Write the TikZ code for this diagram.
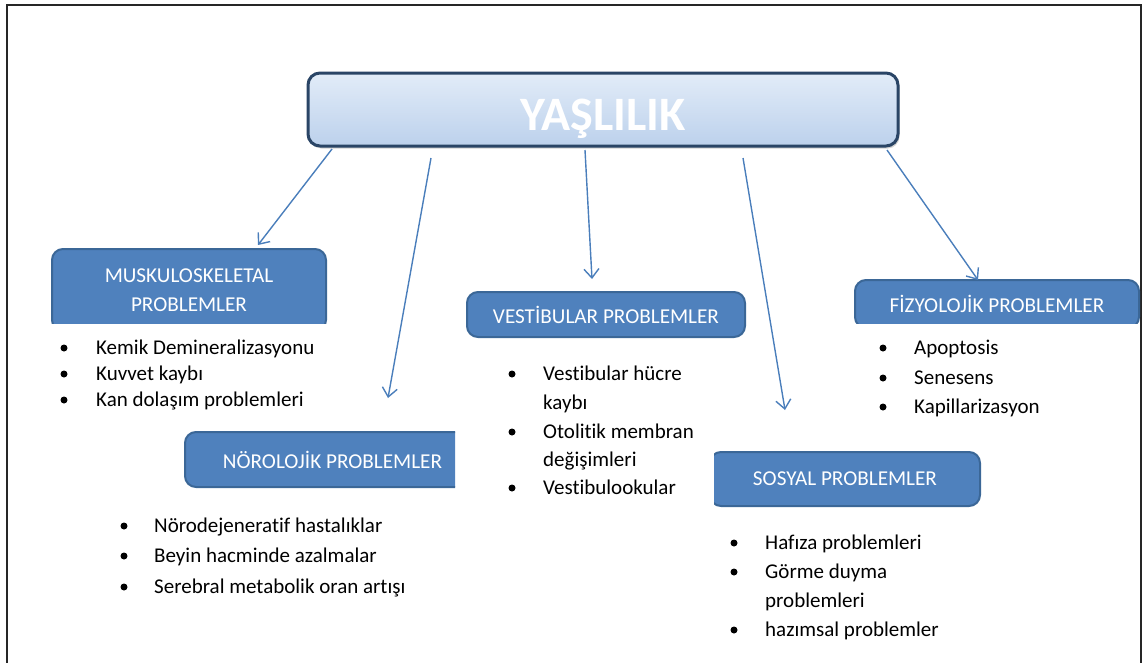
\documentclass[tikz,border=0pt]{standalone}
\usepackage{fontspec}
\setmainfont{Carlito}[Ligatures=CommonOff]
\usetikzlibrary{arrows.meta,shadows}
\definecolor{boxblue}{HTML}{4F81BD}
\definecolor{boxedge}{HTML}{3B6797}
\definecolor{arrowblue}{HTML}{4A7EBB}
\definecolor{titletop}{HTML}{E2ECF8}
\definecolor{titlebot}{HTML}{BCD1EC}
\definecolor{titleedge}{HTML}{2A4566}
\begin{document}
\begin{tikzpicture}[x=1pt,y=-1pt,
 probbox/.style={draw=boxedge, line width=2pt, fill=boxblue, rounded corners=11pt,
   text=white, font=\fontsize{21.2}{29}\selectfont, align=center, inner sep=0pt},
 item/.style={anchor=base west, font=\fontsize{21}{24}\selectfont, inner sep=0pt},
 bul/.style={circle, fill=black, inner sep=0pt, minimum size=7pt},
 link/.style={draw=arrowblue, line width=1.4pt,
   -{Straight Barb[length=9pt,width=15pt,line width=1.4pt]}}]
\useasboundingbox (0,0) rectangle (1144,662);
\draw[line width=2pt, black!85] (7,5) rectangle (1141,720);

% title
\node[draw=titleedge, line width=3pt, rounded corners=12pt,
      top color=titletop, bottom color=titlebot,
      drop shadow={opacity=0.35, shadow xshift=1.5pt, shadow yshift=-2.5pt},
      minimum width=590pt, minimum height=73pt, inner sep=0pt] (title) at (603,109.5) {};
\node[anchor=base, text=white, font=\fontsize{48}{50}\selectfont\bfseries, inner sep=0pt] (titletext) at (603,130) {YAŞLILIK};

% boxes
\begin{scope}
\clip (40,240) rectangle (340,323);
\node[probbox, minimum width=274pt, minimum height=82pt] (musk) at (189,290) {MUSKULOSKELETAL\\PROBLEMLER};
\end{scope}
\begin{scope}
\clip (170,420) rectangle (455,500);
\node[probbox, minimum width=295pt, minimum height=55pt] (noro) at (332.5,459.5) {NÖROLOJİK PROBLEMLER};
\end{scope}
\node[probbox, minimum width=278pt, minimum height=45pt] (vest) at (606,314.5) {VESTİBULAR PROBLEMLER};
\begin{scope}
\clip (714,440) rectangle (1000,520);
\node[probbox, minimum width=270pt, minimum height=54pt] (sosyal) at (845,479) {SOSYAL PROBLEMLER};
\end{scope}
\begin{scope}
\clip (840,270) rectangle (1140,323);
\node[probbox, minimum width=284pt, minimum height=48pt] (fizyo) at (997,304) {FİZYOLOJİK PROBLEMLER};
\end{scope}

% arrows
\coordinate (s1) at (332,149); \coordinate (e1) at (258,245);
\coordinate (s2) at (431,158); \coordinate (e2) at (388,398);
\coordinate (s3) at (585,150); \coordinate (e3) at (592,279);
\coordinate (s4) at (743,158); \coordinate (e4) at (785,410);
\coordinate (s5) at (887,150); \coordinate (e5) at (978,280);
\draw[link] (s1) -- (e1);
\draw[link] (s2) -- (e2);
\draw[link] (s3) -- (e3);
\draw[link] (s4) -- (e4);
\draw[link] (s5) -- (e5);

% list 1
\node[bul] (b11) at (64,348) {}; \node[item] (t11) at (96,354) {Kemik Demineralizasyonu};
\node[bul] (b12) at (64,374) {}; \node[item] (t12) at (96,380) {Kuvvet kaybı};
\node[bul] (b13) at (64,400) {}; \node[item] (t13) at (96,406) {Kan dolaşım problemleri};

% list 2
\node[bul] (b21) at (124,526) {}; \node[item] (t21) at (154,532) {Nörodejeneratif hastalıklar};
\node[bul] (b22) at (124,556) {}; \node[item] (t22) at (154,562) {Beyin hacminde azalmalar};
\node[bul] (b23) at (124,587) {}; \node[item] (t23) at (154,593) {Serebral metabolik oran artışı};

% list 3
\node[bul] (b31) at (512,374) {}; \node[item] (t31) at (543,380) {Vestibular hücre};
\node[item] (t32) at (543,409) {kaybı};
\node[bul] (b33) at (512,432) {}; \node[item] (t33) at (543,438) {Otolitik membran};
\node[item] (t34) at (543,466) {değişimleri};
\node[bul] (b35) at (512,488) {}; \node[item] (t35) at (543,494) {Vestibulookular};

% list 4
\node[bul] (b41) at (734,543) {}; \node[item] (t41) at (765,549) {Hafıza problemleri};
\node[bul] (b42) at (734,572) {}; \node[item] (t42) at (765,578) {Görme duyma};
\node[item] (t43) at (765,607) {problemleri};
\node[bul] (b44) at (734,630) {}; \node[item] (t44) at (765,636) {hazımsal problemler};

% list 5
\node[bul] (b51) at (883,348) {}; \node[item] (t51) at (914,354) {Apoptosis};
\node[bul] (b52) at (883,378) {}; \node[item] (t52) at (914,384) {Senesens};
\node[bul] (b53) at (883,407) {}; \node[item] (t53) at (914,413) {Kapillarizasyon};
\end{tikzpicture}
\end{document}
